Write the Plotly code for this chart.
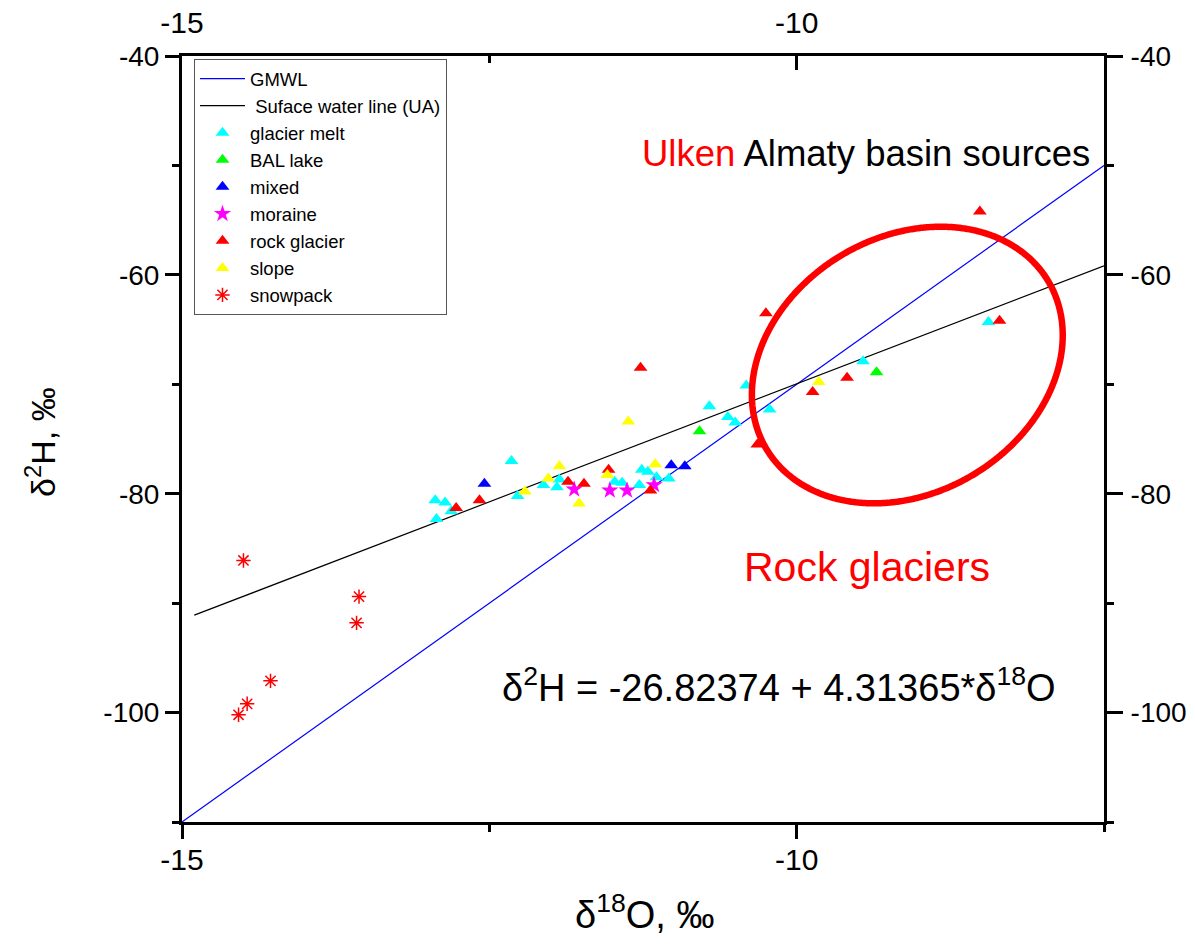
import numpy as np
import plotly.graph_objects as go

# ---------------- data ----------------
gmwl_x = [-15.0, -7.5]
gmwl_y = [-110.0, -50.0]
surf_x = [-14.9, -7.5]
surf_y = [-91.10, -59.18]

glacier_melt_x = [-12.94, -12.86, -12.81, -12.93, -12.32, -12.27, -12.06, -11.95, -11.93,
                  -11.48, -11.42, -11.28, -11.26, -11.21, -11.14, -11.04, -10.71, -10.56,
                  -10.50, -10.41, -10.22, -9.46, -8.44]
glacier_melt_y = [-80.6, -80.8, -81.6, -82.3, -77.0, -80.2, -79.2, -79.4, -78.7,
                  -78.9, -79.0, -79.2, -77.8, -78.0, -78.5, -78.6, -72.0, -73.0,
                  -73.5, -70.1, -72.3, -67.9, -64.3]
bal_lake_x = [-10.79, -9.35]
bal_lake_y = [-74.3, -68.9]
mixed_x = [-12.54, -11.02, -10.91]
mixed_y = [-79.1, -77.4, -77.5]
moraine_x = [-11.81, -11.52, -11.38, -11.16]
moraine_y = [-79.6, -79.7, -79.7, -79.2]
rock_glacier_x = [-12.77, -12.58, -11.86, -11.73, -11.53, -11.27, -11.19, -10.25, -10.32,
                  -9.87, -9.59, -8.51, -8.35]
rock_glacier_y = [-81.3, -80.6, -78.9, -79.1, -77.8, -68.5, -79.7, -63.5, -75.5,
                  -70.7, -69.4, -54.2, -64.2]
slope_x = [-12.21, -12.02, -11.93, -11.77, -11.54, -11.37, -11.15, -9.82]
slope_y = [-79.8, -78.6, -77.5, -80.9, -78.3, -73.4, -77.3, -69.8]
snowpack_x = [-14.50, -13.56, -13.58, -14.28, -14.47, -14.54]
snowpack_y = [-86.1, -89.4, -91.8, -97.1, -99.2, -100.2]

x_tickvals = [-15, -10]
x_ticktext = ["-15", "-10"]
x_minorvals = [-12.5, -7.5]
y_tickvals = [-100, -80, -60, -40]
y_ticktext = ["-100", "-80", "-60", "-40"]
y_minorvals = [-110, -90, -70, -50]

x_range = [-15, -7.5]
y_range = [-110, -40]

# ---------------- layout geometry ----------------
W, H = 1195, 945
ML, MR, MT, MB = 182, 91, 56, 123
plot_w = W - ML - MR
plot_h = H - MT - MB
px_per_x = plot_w / (x_range[1] - x_range[0])
px_per_y = plot_h / (y_range[1] - y_range[0])

# ellipse annotation (center in data units, semi-axes in pixels, tilt in degrees)
ell_cx, ell_cy = -9.10, -68.24
ell_a, ell_b, ell_ang = 164, 128, 30.7
t = np.linspace(0, 2 * np.pi, 721)
th = np.deg2rad(ell_ang)
dxp = ell_a * np.cos(t) * np.cos(th) - ell_b * np.sin(t) * np.sin(th)
dyp = ell_a * np.cos(t) * np.sin(th) + ell_b * np.sin(t) * np.cos(th)
ell_x = ell_cx + dxp / px_per_x
ell_y = ell_cy + dyp / px_per_y

fig = go.Figure()
fig.add_trace(go.Scatter(x=gmwl_x, y=gmwl_y, mode="lines", name="GMWL",
                         line=dict(color="#0000ff", width=1.2)))
fig.add_trace(go.Scatter(x=surf_x, y=surf_y, mode="lines", name=" Suface water line (UA)",
                         line=dict(color="black", width=1.2)))

tri = 12
def pts(x, y, name, color, symbol="triangle-up", size=tri, **kw):
    fig.add_trace(go.Scatter(x=x, y=y, mode="markers", name=name,
                             marker=dict(symbol=symbol, size=size, color=color, **kw)))

pts(glacier_melt_x, glacier_melt_y, "glacier melt", "#00ffff")
pts(bal_lake_x, bal_lake_y, "BAL lake", "#00ff00")
pts(mixed_x, mixed_y, "mixed", "#0000ff")
pts(moraine_x, moraine_y, "moraine", "#ff00ff", symbol="star", size=13)
pts(rock_glacier_x, rock_glacier_y, "rock glacier", "#ff0000")
pts(slope_x, slope_y, "slope", "#ffff00")
pts(snowpack_x, snowpack_y, "snowpack", "#ff0000", symbol="asterisk-open", size=12,
    line=dict(color="#ff0000", width=1.5))

# ellipse drawn on the mirrored (top/right) axes so they are rendered too
fig.add_trace(go.Scatter(x=ell_x, y=ell_y, mode="lines", showlegend=False, hoverinfo="skip",
                         xaxis="x2", yaxis="y2",
                         line=dict(color="#ff0000", width=6.5, simplify=False)))

sans = "Liberation Sans, Arial"

common = dict(showgrid=False, zeroline=False, showline=True, linewidth=3, linecolor="black",
              tickcolor="black", tickwidth=2.5, tickmode="array", automargin=False)

xt = dict(tickvals=x_tickvals, ticktext=x_ticktext)
yt = dict(tickvals=y_tickvals, ticktext=y_ticktext)

fig.update_layout(
    width=W, height=H,
    margin=dict(l=ML, r=MR, t=MT, b=MB),
    paper_bgcolor="white", plot_bgcolor="white",
    hovermode=False,
    xaxis=dict(range=x_range, ticks="outside", ticklen=14, **xt,
               tickfont=dict(family=sans, size=30, color="black"), ticklabelstandoff=-5,
               minor=dict(ticks="outside", ticklen=7, tickwidth=2.5, tickmode="array",
                          tickvals=x_minorvals, tickcolor="black"),
               **common),
    xaxis2=dict(range=x_range, overlaying="x", side="top", anchor="y2", ticks="inside",
                ticklen=14, **xt,
                tickfont=dict(family=sans, size=30, color="black"), ticklabelstandoff=8,
                minor=dict(ticks="inside", ticklen=7, tickwidth=2.5, tickmode="array",
                           tickvals=x_minorvals, tickcolor="black"),
                **common),
    yaxis=dict(range=y_range, ticks="outside", ticklen=14, **yt,
               tickfont=dict(family=sans, size=28, color="black"), ticklabelstandoff=0,
               minor=dict(ticks="outside", ticklen=7, tickwidth=2.5, tickmode="array",
                          tickvals=y_minorvals, tickcolor="black"),
               **common),
    yaxis2=dict(range=y_range, overlaying="y", side="right", anchor="x2",
                ticks="outside", ticklen=16, **yt,
                tickfont=dict(family=sans, size=28, color="black"), ticklabelstandoff=2,
                minor=dict(ticks="outside", ticklen=7, tickwidth=2.5, tickmode="array",
                           tickvals=y_minorvals, tickcolor="black"),
                **common),
    legend=dict(x=(194 - ML) / plot_w, y=1 - (59 - MT) / plot_h, xanchor="left", yanchor="top",
                bgcolor="white", bordercolor="#555555", borderwidth=1, itemwidth=45,
                font=dict(family=sans, size=18.5, color="black"), tracegroupgap=0),
    font=dict(family=sans, color="black"),
)

def px2paper(px, py):
    return (px - ML) / plot_w, 1 - (py - MT) / plot_h

annots = []
ax, ay = px2paper(640, 153)
annots.append(dict(x=ax, y=ay, xref="paper", yref="paper", xanchor="left", yanchor="middle",
                   showarrow=False, font=dict(family=sans, size=36.5, color="black"),
                   text="<span style='color:#ff0000'>Ulken</span> Almaty basin sources"))
ax, ay = px2paper(742, 567)
annots.append(dict(x=ax, y=ay, xref="paper", yref="paper", xanchor="left", yanchor="middle",
                   showarrow=False, font=dict(family=sans, size=41, color="#ff0000"),
                   text="Rock glaciers"))
ax, ay = px2paper(500, 685)
annots.append(dict(x=ax, y=ay, xref="paper", yref="paper", xanchor="left", yanchor="middle",
                   showarrow=False, font=dict(family=sans, size=38, color="black"),
                   text="δ<sup>2</sup>H = -26.82374 + 4.31365*δ<sup>18</sup>O"))
ax, ay = px2paper(644, 912)
annots.append(dict(x=ax, y=ay, xref="paper", yref="paper", xanchor="center", yanchor="middle",
                   showarrow=False, font=dict(family=sans, size=38, color="black"),
                   text="δ<sup>18</sup>O, ‰"))
ax, ay = px2paper(40, 442)
annots.append(dict(x=ax, y=ay, xref="paper", yref="paper", xanchor="center", yanchor="middle",
                   showarrow=False, textangle=-90, font=dict(family=sans, size=34, color="black"),
                   text="δ<sup>2</sup>H, ‰"))
fig.update_layout(annotations=annots)

fig.write_html("out.html")
